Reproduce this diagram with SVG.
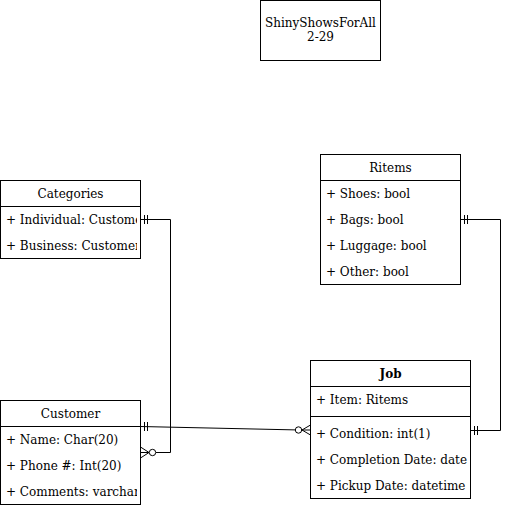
<svg xmlns="http://www.w3.org/2000/svg" width="510" height="508" viewBox="0 0 510 508">
<style>
rect{fill:#fff;stroke:#000;stroke-width:1}
line.d{stroke:#000;stroke-width:1}
text{font-family:"DejaVu Serif",serif;font-size:12px;fill:#000}
.c{text-anchor:middle}
.b{font-weight:bold}
.e{fill:none;stroke:#000;stroke-width:1}
</style>
<defs>
<clipPath id="cc"><rect x="0" y="180" width="137" height="330"/></clipPath>
</defs>
<rect x="0" y="0" width="510" height="508" style="stroke:none"/>
<g id="title">
<rect x="260.5" y="0.5" width="120" height="60"/>
<text class="c" x="320.5" y="27">ShinyShowsForAll</text>
<text class="c" x="320.5" y="41">2-29</text>
</g>
<g id="categories">
<rect x="0.5" y="180.5" width="140" height="78"/>
<line class="d" x1="0.5" y1="206.5" x2="140.5" y2="206.5"/>
<text class="c" x="70.5" y="198">Categories</text>
<g clip-path="url(#cc)">
<text x="6" y="224">+ Individual: Customer</text>
<text x="6" y="250">+ Business: Customer</text>
</g>
</g>
<g id="customer">
<rect x="0.5" y="400.5" width="140" height="104"/>
<line class="d" x1="0.5" y1="426.5" x2="140.5" y2="426.5"/>
<text class="c" x="70.5" y="418">Customer</text>
<g clip-path="url(#cc)">
<text x="6" y="444">+ Name: Char(20)</text>
<text x="6" y="470">+ Phone #: Int(20)</text>
<text x="6" y="496">+ Comments: varchar</text>
</g>
</g>
<g id="ritems">
<rect x="320.5" y="154.5" width="140" height="130"/>
<line class="d" x1="320.5" y1="180.5" x2="460.5" y2="180.5"/>
<text class="c" x="390.5" y="172">Ritems</text>
<text x="326" y="198">+ Shoes: bool</text>
<text x="326" y="224">+ Bags: bool</text>
<text x="326" y="250">+ Luggage: bool</text>
<text x="326" y="276">+ Other: bool</text>
</g>
<g id="job">
<rect x="310.5" y="360.5" width="160" height="138"/>
<line class="d" x1="310.5" y1="386.5" x2="470.5" y2="386.5"/>
<line class="d" x1="310.5" y1="416.5" x2="470.5" y2="416.5"/>
<text class="c b" x="390.5" y="378">Job</text>
<text x="316" y="404">+ Item: Ritems</text>
<text x="316" y="438">+ Condition: int(1)</text>
<text x="316" y="464">+ Completion Date: date</text>
<text x="316" y="490">+ Pickup Date: datetime</text>
</g>
<g id="connectors">
<path class="e" d="M140.5 219.5 H170.5 V452.5 H156"/>
<path class="e" d="M144.5 215 V224 M147.5 215 V224"/>
<circle class="e" cx="152.5" cy="452.5" r="3.2"/>
<path class="e" d="M140.5 447 L149 452.5 L140.5 458 M140.5 452.5 H149"/>
<path class="e" d="M140.5 426.5 L295 429.9"/>
<path class="e" d="M144.5 422 V431 M147.5 422 V431"/>
<circle class="e" cx="298.5" cy="430" r="3.2"/>
<path class="e" d="M310.5 425 L302 430 L310.5 435 M302 430 H310.5"/>
<path class="e" d="M460.5 219.5 H500.5 V430.5 H470.5"/>
<path class="e" d="M464.5 215 V224 M467.5 215 V224"/>
<path class="e" d="M474.5 426 V435 M477.5 426 V435"/>
</g>
</svg>
